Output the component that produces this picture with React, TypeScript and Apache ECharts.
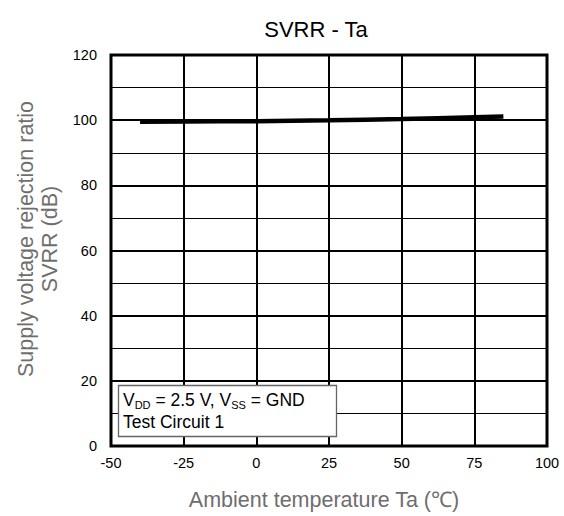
import React, { useEffect, useRef } from "react";
import * as echarts from "echarts";

const temps = [-40, -25, 0, 25, 50, 75, 85];
const svrr = [99.5, 99.6, 99.7, 99.95, 100.35, 100.9, 101.1];
const xTicks = [-50, -25, 0, 25, 50, 75, 100];
const yTicks = [0, 20, 40, 60, 80, 100, 120];
// annotation pieces: [text, isSubscript]
const noteLine1: [string, boolean][] = [
  ["V", false],
  ["DD", true],
  [" = 2.5 V, V", false],
  ["SS", true],
  [" = GND", false],
];
const noteLine2 = "Test Circuit 1";

export default function App() {
  const ref = useRef<HTMLDivElement>(null);
  useEffect(() => {
    document.body.style.margin = "0";
    const chart = echarts.init(ref.current!, null, { renderer: "svg" });
    const font = "Liberation Sans, Arial, sans-serif";
    const mainSize = 17.5;
    const subSize = 11;
    const ctx = document.createElement("canvas").getContext("2d")!;
    const measure = (t: string, size: number) => {
      ctx.font = `${size}px "Liberation Sans", Arial, sans-serif`;
      return ctx.measureText(t).width;
    };
    const noteX = 123;
    const noteY = 390.5;
    let cx = noteX;
    const noteTexts: any[] = noteLine1.map(([t, sub]) => {
      const size = sub ? subSize : mainSize;
      const el = {
        type: "text",
        x: cx,
        y: sub ? noteY + 9 : noteY,
        z: 101,
        style: { text: t, fontFamily: font, fontSize: size, fill: "#000", verticalAlign: "top" },
      };
      cx += measure(t, size);
      return el;
    });
    noteTexts.push({
      type: "text",
      x: noteX,
      y: noteY + 22.5,
      z: 101,
      style: { text: noteLine2, fontFamily: font, fontSize: mainSize, fill: "#000", verticalAlign: "top" },
    });

    chart.setOption({
      animation: false,
      backgroundColor: "#fff",
      grid: {
        left: 111,
        top: 55,
        width: 436,
        height: 391,
        show: true,
        borderColor: "#000",
        borderWidth: 3,
        backgroundColor: "transparent",
        z: 10,
      },
      xAxis: {
        type: "value",
        min: xTicks[0],
        max: xTicks[xTicks.length - 1],
        interval: 25,
        axisLine: { show: false },
        axisTick: { show: false },
        axisLabel: { fontFamily: font, fontSize: 14.5, color: "#000", margin: 9 },
        splitLine: { show: true, lineStyle: { color: "#000", width: 2 } },
      },
      yAxis: {
        type: "value",
        min: yTicks[0],
        max: yTicks[yTicks.length - 1],
        interval: 20,
        axisLine: { show: false },
        axisTick: { show: false },
        axisLabel: { fontFamily: font, fontSize: 14.5, color: "#000", margin: 14 },
        splitLine: { show: true, lineStyle: { color: "#000", width: 2 } },
        minorTick: { show: false, splitNumber: 2 },
        minorSplitLine: { show: true, lineStyle: { color: "#000", width: 1 } },
      },
      series: [
        {
          type: "line",
          data: temps.map((t, i) => [t, svrr[i]]),
          showSymbol: false,
          smooth: true,
          lineStyle: { color: "#000", width: 4.5 },
          z: 5,
        },
      ],
      graphic: [
        {
          type: "text",
          x: 316,
          y: 29,
          style: {
            text: "SVRR - Ta",
            fontFamily: font,
            fontSize: 22,
            fill: "#000",
            align: "center",
            verticalAlign: "middle",
          },
        },
        {
          type: "text",
          x: 38,
          y: 239,
          rotation: Math.PI / 2,
          style: {
            text: "Supply voltage rejection ratio\nSVRR (dB)",
            fontFamily: font,
            fontSize: 21.5,
            fill: "#6e6e6e",
            align: "center",
            verticalAlign: "middle",
            lineHeight: 24,
          },
        },
        {
          type: "text",
          x: 324,
          y: 500,
          style: {
            text: "Ambient temperature Ta (℃)",
            fontFamily: font,
            fontSize: 21.5,
            fill: "#6e6e6e",
            align: "center",
            verticalAlign: "middle",
          },
        },
        {
          type: "rect",
          shape: { x: 118.5, y: 385.5, width: 218, height: 51 },
          style: { fill: "#fff", stroke: "#666", lineWidth: 1.3 },
          z: 100,
        },
        ...noteTexts,
      ],
    });
    return () => chart.dispose();
  }, []);
  return <div ref={ref} style={{ width: 564, height: 516 }} />;
}
